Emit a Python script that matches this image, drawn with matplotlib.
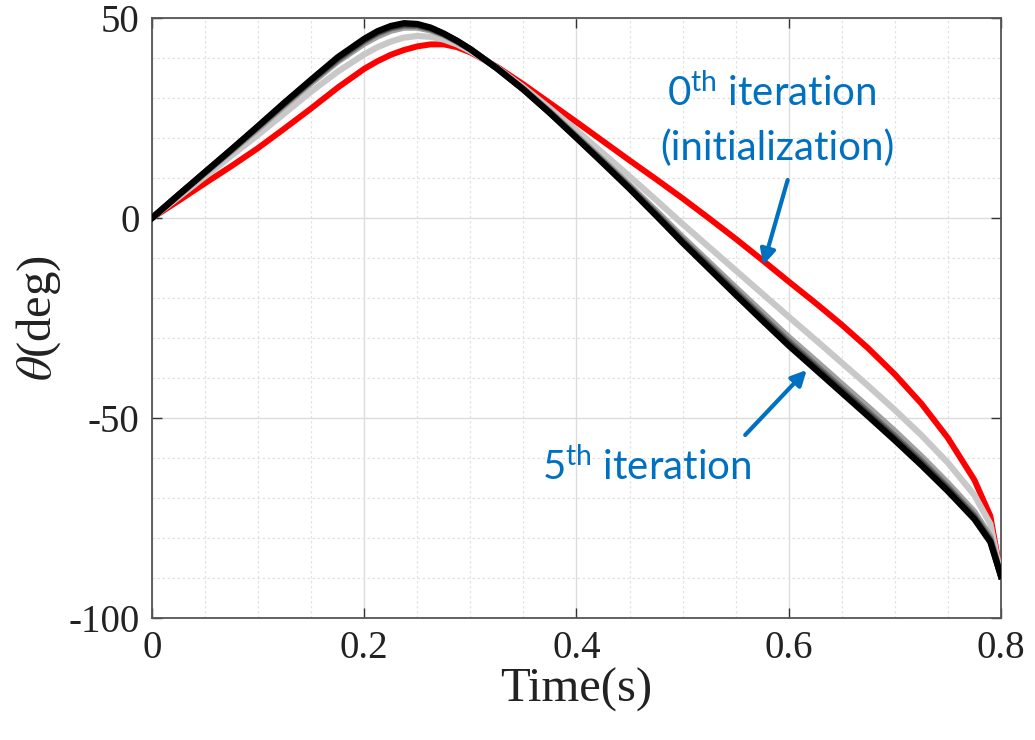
import matplotlib
matplotlib.use("Agg")
import matplotlib.pyplot as plt
from matplotlib.ticker import MultipleLocator

plt.rcParams["mathtext.fontset"] = "custom"
plt.rcParams["mathtext.rm"] = "Lato"
plt.rcParams["mathtext.it"] = "Lato:italic"

# Sample times (s)
time_s = [0, 0.025, 0.05, 0.075, 0.1, 0.125, 0.15, 0.175, 0.2, 0.2125, 0.225, 0.2375,
          0.25, 0.2625, 0.275, 0.2875, 0.3, 0.325, 0.35, 0.375, 0.4, 0.425, 0.45, 0.475,
          0.5, 0.525, 0.55, 0.575, 0.6, 0.625, 0.65, 0.675, 0.7, 0.725, 0.75, 0.775,
          0.79, 0.8]

# Joint angle (deg) per iteration
theta_iter0 = [0, 4.3, 8.7, 13.0, 17.5, 22.4, 27.4, 32.6, 37.3, 39.2, 40.8, 42.0,
               42.9, 43.4, 43.4, 42.7, 41.4, 37.8, 33.4, 28.7, 24.0, 19.2, 14.4, 9.7,
               4.9, -0.1, -5.2, -10.5, -15.9, -21.2, -26.7, -32.6, -39.1, -46.4, -55.0, -65.5,
               -74.5, -89.5]
theta_iter1 = [0, 5.2, 10.4, 15.6, 20.8, 26.2, 31.6, 36.6, 40.9, 42.7, 44.1, 45.1,
               45.5, 45.3, 44.6, 43.4, 41.7, 37.6, 32.7, 27.4, 21.9, 16.2, 10.4, 4.5,
               -1.5, -7.3, -13.1, -18.9, -24.7, -30.4, -36.2, -42.0, -48.0, -54.3, -61.2, -69.3,
               -76.5, -89.5]
theta_iter2 = [0, 5.6, 11.2, 16.7, 22.3, 28.1, 33.7, 39.1, 43.6, 45.4, 46.8, 47.6,
               47.6, 46.9, 45.7, 44.0, 42.1, 37.5, 32.3, 26.6, 20.6, 14.5, 8.2, 1.8,
               -4.8, -11.1, -17.4, -23.6, -29.8, -35.6, -41.5, -47.3, -53.3, -59.6, -66.3, -73.5,
               -79.6, -89.5]
theta_iter3 = [0, 5.7, 11.35, 17.0, 22.7, 28.5, 34.2, 39.5, 44.2, 46.1, 47.4, 48.1,
               48.0, 47.2, 45.9, 44.2, 42.2, 37.5, 32.2, 26.4, 20.3, 14.1, 7.8, 1.2,
               -5.5, -11.9, -18.3, -24.6, -30.8, -36.7, -42.6, -48.5, -54.5, -60.7, -67.3, -74.4,
               -80.3, -89.5]
theta_iter4 = [0, 5.75, 11.45, 17.1, 22.9, 28.7, 34.4, 39.9, 44.5, 46.4, 47.7, 48.4,
               48.3, 47.4, 46.0, 44.2, 42.2, 37.4, 32.1, 26.3, 20.1, 13.9, 7.5, 0.9,
               -5.9, -12.3, -18.8, -25.1, -31.4, -37.3, -43.2, -49.1, -55.1, -61.3, -67.8, -74.9,
               -80.7, -89.5]
theta_iter5 = [0, 5.8, 11.5, 17.2, 23.0, 28.9, 34.6, 40.2, 44.8, 46.7, 48.0, 48.7,
               48.5, 47.6, 46.1, 44.3, 42.2, 37.4, 32.1, 26.2, 20.0, 13.7, 7.3, 0.6,
               -6.2, -12.7, -19.2, -25.6, -31.9, -37.8, -43.7, -49.6, -55.6, -61.8, -68.3, -75.3,
               -81.0, -89.5]

iter_series = [theta_iter1, theta_iter2, theta_iter3, theta_iter4, theta_iter5]
iter_colors = ["#c8c8c8", "#a0a0a0", "#707070", "#404040", "#000000"]

x_ticks = [0, 0.2, 0.4, 0.6, 0.8]
x_tick_labels = ["0", "0.2", "0.4", "0.6", "0.8"]
y_ticks = [-100, -50, 0, 50]
y_tick_labels = ["-100", "-50", "0", "50"]

blue = "#0070C0"
serif = "Liberation Serif"

fig = plt.figure(figsize=(10.35, 7.4), dpi=100)
ax = fig.add_axes([0.1469, 0.1649, 0.8202, 0.8108])

ax.plot(time_s, theta_iter0, color="#ff0000", lw=4.3, solid_joinstyle="round", zorder=3)
for vals, col in zip(iter_series, iter_colors):
    ax.plot(time_s, vals, color=col, lw=4.5, solid_joinstyle="round", zorder=3)

ax.set_xlim(0, 0.8)
ax.set_ylim(-100, 50)
ax.set_xticks(x_ticks)
ax.set_xticklabels(x_tick_labels)
ax.set_yticks(y_ticks)
ax.set_yticklabels(y_tick_labels)
ax.xaxis.set_minor_locator(MultipleLocator(0.05))
ax.yaxis.set_minor_locator(MultipleLocator(10))

ax.grid(which="major", color="#dcdcdc", lw=1.0, ls="-", zorder=0)
ax.grid(which="minor", color="#e2e2e2", lw=0.9, ls=(0, (2, 2)), zorder=0)
ax.set_axisbelow(True)

for sp in ax.spines.values():
    sp.set_color("#555555")
    sp.set_linewidth(1.3)

ax.tick_params(which="major", direction="in", length=7, width=1.0, color="#333333",
               top=True, right=True, labelsize=28, pad=9)
ax.tick_params(which="minor", length=0, top=True, right=True)
for lab in ax.get_xticklabels() + ax.get_yticklabels():
    lab.set_fontfamily(serif)
    lab.set_color("#222222")

ax.set_xlabel("Time(s)", fontsize=35, fontfamily=serif, color="#222222", labelpad=0)
ax.set_ylabel(r"$\theta$(deg)", fontsize=35, fontfamily=serif, color="#222222",
              math_fontfamily="stix", labelpad=4)

note_kw = dict(color=blue, fontsize=29, fontfamily="Lato", ha="center", va="baseline",
               math_fontfamily="custom", zorder=5)
ax.text(0.5845, 28.0, r"0$^{\mathrm{th}}$ iteration", **note_kw)
ax.text(0.5890, 14.5, "(initialization)", **note_kw)
ax.text(0.4665, -65.5, r"5$^{\mathrm{th}}$ iteration", **note_kw)

arrow_kw = dict(arrowstyle="-|>,head_length=0.9,head_width=0.45", color=blue, lw=3,
                shrinkA=0, shrinkB=0)
ax.annotate("", xy=(0.576, -11.75), xytext=(0.599, 9.5), arrowprops=arrow_kw, zorder=5)
ax.annotate("", xy=(0.617, -38.0), xytext=(0.559, -54.25), arrowprops=arrow_kw, zorder=5)

fig.savefig("out.png", dpi=100, facecolor="white")
